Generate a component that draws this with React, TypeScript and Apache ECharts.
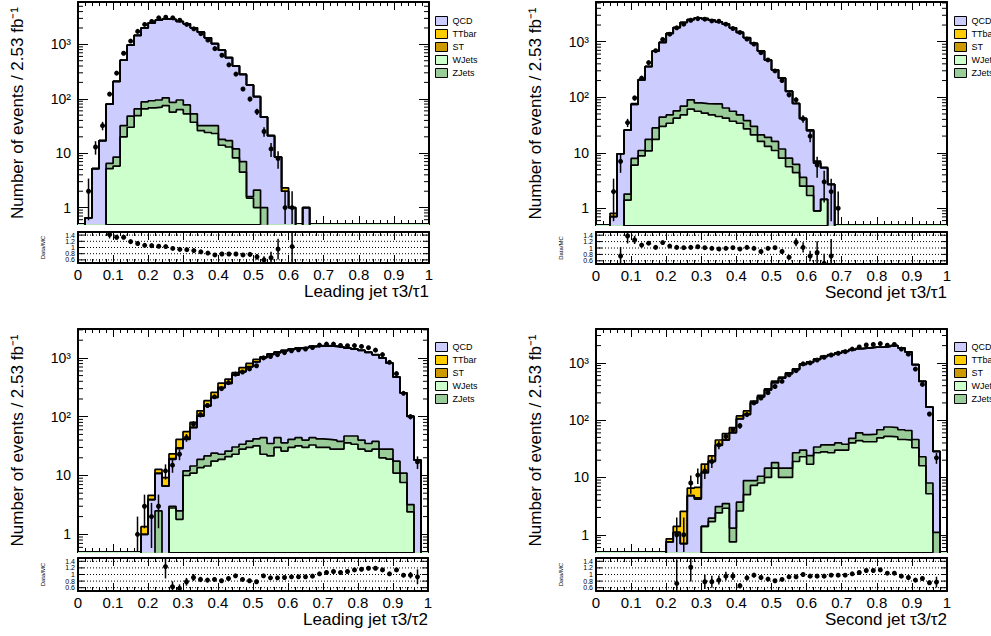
import React, { useEffect, useRef } from "react";
import * as echarts from "echarts";

const NBINS = 50;
const BIN_WIDTH = 0.02;
const binLow = Array.from({ length: NBINS }, (_, i) => Math.round(i * BIN_WIDTH * 100) / 100);

function bins(start: number, values: (number | null)[], fill: number | null = 0): (number | null)[] {
  const out: (number | null)[] = new Array(NBINS).fill(fill);
  values.forEach((v, i) => { out[start + i] = v; });
  return out;
}

const LEGEND_ORDER = ["QCD", "TTbar", "ST", "WJets", "ZJets"];
const COLORS: Record<string, string> = {
  QCD: "#ccccff",
  TTbar: "#ffcc00",
  ST: "#cc9900",
  WJets: "#ccffcc",
  ZJets: "#99cc99",
};
const Y_TITLE = "Number of events / 2.53 fb\u207B\u00B9";
const RATIO_LINES = [0.6, 0.8, 1.0, 1.2, 1.4];
const X_TICK_LABEL_STEP = 0.1;

// ---------- Leading jet tau3/tau1 ----------
const tlQCD = bins(1, [0.65, 5.2, 17, 73.5, 199.5, 478, 922, 1395, 1922, 2388, 2685, 2826, 2774, 2535, 2303, 1957, 1648, 1288, 998, 762, 554, 390, 273, 177, 107, 45, 21, 8.5, 2.0, 1.0, 0, 1.0]);
const tlTTbar = bins(6, [1, 2, 3, 3, 4, 4, 4, 4, 3, 3, 3, 2, 2, 1, 1, 1, 0.5, 0.5, 0.3, 0.2, 0.1, 0, 0, 0.3]);
const tlST = bins(7, [0.5, 1, 1, 1.5, 1.5, 1.5, 1.5, 1, 1, 1, 0.5, 0.5, 0.3]);
const tlWJets = bins(4, [5.2, 5.8, 20, 30, 49, 65, 68, 70, 75, 57, 63, 53, 37, 26, 24, 23, 14, 13, 8.2, 4.5, 1.5, 1.0]);
const tlZJets = bins(4, [1.3, 2.7, 12, 18, 16, 23, 24, 25, 29, 29, 32, 24, 16, 6, 8, 9, 4, 4, 3.8, 2.5, 0.1, 1.1, 1.0]);
const tlData = bins(1, [2, 13, 32, 122, 296, 686, 1150, 1730, 2320, 2630, 3070, 3150, 3070, 2780, 2320, 1930, 1570, 1200, 834, 630, 420, 284, 151, 99, 58, 25, 12, 8, 1, 1]);
const tlRatio = bins(4, [1.42, 1.33, 1.33, 1.19, 1.13, 1.07, 1.06, 1.04, 1.03, 0.97, 0.94, 0.93, 0.9, 0.86, 0.82, 0.76, 0.79, 0.79, 0.79, 0.76, 0.78, 0.7, 0.6, 0.67, 0.95, null, 1.03], null);

// ---------- Second jet tau3/tau1 ----------
const trQCD = bins(2, [0.71, 9.6, 23.8, 66.8, 195, 340, 653, 929, 1362, 1743, 2151, 2420, 2611, 2533, 2364, 2204, 2006, 1724, 1422, 1142, 903, 660, 451, 295, 209, 120, 71, 37.4, 22.5, 5.6, 3.95, 2.7]);
const trTTbar = bins(2, [0.1, 0, 0, 2, 1, 1, 2, 3, 3, 4, 4, 4, 4, 4, 3, 3, 3, 2, 2, 2, 1, 1, 1, 0.5, 0.5, 0.5, 0.3, 1, 1, 0.6]);
const trST = bins(6, [0.5, 0.5, 1, 1, 1, 1, 1, 1, 1, 1, 0.5, 0.5, 0.5, 0.3, 0.3]);
const trWJets = bins(4, [1.4, 6.0, 8.8, 10.8, 17.4, 30, 34, 42, 48, 61, 56, 52, 48, 45, 42, 37, 34, 27, 21, 16, 13, 11, 8, 5.6, 4.4, 2.5, 1.7, 0.9, 1.45]);
const trZJets = bins(4, [0.4, 1.9, 2.2, 6.6, 10.6, 14, 14, 15, 21, 29, 23, 25, 28, 31, 22, 19, 14, 11, 9, 5, 6, 5, 3.7, 2.4, 1.8, 1.1, 0.8]);
const trData = bins(2, [2, 7, 35, 97, 221, 421, 690, 1100, 1370, 1780, 2070, 2440, 2610, 2550, 2370, 2340, 2070, 1730, 1470, 1120, 908, 635, 470, 298, 200, 111, 90, 41, 20, 6, 3, 2, 1]);
const trRatio = bins(3, [0.75, 1.375, 1.25, 1.09, 1.15, 1.02, 1.17, 1.06, 1.02, 1.01, 1.02, 1.04, 1.01, 0.99, 0.97, 0.99, 1.01, 0.97, 1.02, 0.99, 0.89, 0.99, 1.01, 0.89, 0.71, 1.18, 1.02, 0.75, 0.86, 0.52, 0.75], null);

// ---------- Leading jet tau3/tau2 ----------
const blQCD = bins(9, [1.0, 3.9, 8.4, 6.6, 15.8, 26, 29, 50.5, 83, 130, 186, 286, 340, 478, 546, 666, 813, 966, 1105, 1186, 1284, 1354, 1411, 1455, 1516, 1558, 1559, 1525, 1487, 1418, 1363, 1300, 1205, 1094, 967, 789, 454, 242, 98, 18.3]);
const blTTbar = bins(9, [0.35, 0.7, 1.8, 2.6, 4.0, 11.5, 13.7, 13.8, 22, 33, 45, 57, 63, 48, 96, 96, 82, 30, 30, 30, 30, 25, 25, 25, 20, 20, 20, 15, 15, 15, 10, 10, 10, 8, 5, 5, 3, 2, 1]);
const blST = bins(13, [0.5, 1, 1, 1, 2, 3, 4, 5, 5, 4, 6, 6, 5, 3, 3, 3, 3]);
const blWJets = bins(13, [2.8, 1.8, 10, 11, 13.6, 14.5, 17.6, 18.8, 21, 23, 28, 30, 32, 23, 21.5, 30, 26, 30, 32, 30, 33, 30, 30, 28, 28, 36, 34, 28, 26, 28, 20, 19, 11, 7.6, 2.4]);
const blZJets = bins(11, [2.5, 0, 0.2, 0.7, 2, 3.5, 5.2, 7, 6.4, 4.2, 5, 7.5, 6, 8.5, 10, 21, 13.5, 14, 10, 11, 12, 10, 11, 12, 11, 12, 10, 11, 13, 12, 9, 10, 8, 9, 6.5, 3.4, 0.8]);
const blData = bins(8, [1, 3, 2, 3, 12, 15, 23, 44, 75, 108, 155, 218, 300, 380, 530, 575, 650, 735, 1000, 1055, 1135, 1230, 1320, 1375, 1415, 1500, 1650, 1715, 1720, 1630, 1615, 1620, 1565, 1490, 1355, 1140, 840, 540, 250, 100, 17]);
const blRatio = bins(12, [1.24, 0.63, 0.58, 0.78, 0.91, 0.85, 0.83, 0.85, 0.81, 0.88, 0.96, 0.85, 0.81, 0.78, 0.96, 0.9, 0.9, 0.91, 0.93, 0.93, 0.93, 0.95, 1.02, 1.06, 1.09, 1.06, 1.09, 1.14, 1.16, 1.19, 1.19, 1.14, 1.02, 1.14, 0.98, 0.98, 0.93], null);

// ---------- Second jet tau3/tau2 ----------
const brQCD = bins(10, [0.75, 1.1, 0.7, 4.8, 4.2, 10.6, 17, 33, 41.5, 58.7, 101, 116, 191, 243, 321, 432, 525, 633, 738, 910, 998, 1118, 1255, 1348, 1445, 1550, 1650, 1710, 1764, 1815, 1824, 1868, 1930, 1757, 1490, 887, 454, 161.5, 27.5]);
const brTTbar = bins(10, [0.1, 0.3, 1.86, 1.7, 2.3, 4.7, 4.4, 8, 12, 13, 12, 18, 14, 14, 15, 28, 20, 20, 20, 20, 18, 18, 18, 15, 15, 12, 12, 10, 10, 8, 8, 6, 6, 5, 4, 2, 1, 0.5]);
const brST = bins(14, [0.2, 0.4, 0.5, 1, 1, 1, 2, 2, 2, 3, 3, 3, 3, 3, 2, 2, 2, 2]);
const brWJets = bins(15, [1.4, 1.7, 2.4, 2.9, 0.75, 2.6, 5.0, 7.3, 8.0, 10, 14.5, 10, 10, 19, 23, 17, 27, 28, 27, 30, 30, 40, 44, 42, 42, 49, 52, 51, 46, 45, 33, 16, 5.2]);
const brZJets = bins(15, [0, 0.25, 0.7, 0.6, 0.55, 1.1, 3.8, 1.5, 2.5, 4.5, 3.7, 4.5, 4.5, 8, 7, 7, 7, 9, 10, 10, 8, 8, 16, 14, 15, 19, 24, 23, 22, 21, 13, 7, 2.8, 1.1]);
const brData = bins(11, [1, 1, 8, 11, 13, 19, 37, 52, 68, 80, 125, 200, 244, 302, 387, 476, 621, 730, 960, 1000, 1120, 1250, 1370, 1470, 1570, 1740, 1890, 2050, 2100, 2170, 2030, 2090, 1740, 1420, 780, 420, 128, 22]);
const brRatio = bins(11, [0.73, null, 1.22, null, 0.78, 0.78, 0.83, 0.95, 0.95, 0.66, 0.9, 0.98, 0.91, 0.86, 0.81, 0.85, 0.93, 0.93, 1.0, 0.95, 0.95, 0.95, 0.98, 0.98, 0.98, 1.02, 1.06, 1.12, 1.12, 1.14, 1.04, 1.04, 0.95, 0.91, 0.83, 0.88, 0.75, 0.77], null);

const PANELS = [
  {
    title: "Leading jet \u03C43/\u03C41", yMax: 6000,
    qcd: tlQCD, ttbar: tlTTbar, st: tlST, wjets: tlWJets, zjets: tlZJets, data: tlData, ratio: tlRatio,
    main: { left: 78, top: 2, width: 351, height: 222 },
    sub: { left: 78, top: 232, width: 351, height: 31 },
    legend: { left: 435, top: 16 },
  },
  {
    title: "Second jet \u03C43/\u03C41", yMax: 5200,
    qcd: trQCD, ttbar: trTTbar, st: trST, wjets: trWJets, zjets: trZJets, data: trData, ratio: trRatio,
    main: { left: 596, top: 2, width: 351, height: 223 },
    sub: { left: 596, top: 232, width: 351, height: 32 },
    legend: { left: 954, top: 16 },
  },
  {
    title: "Leading jet \u03C43/\u03C42", yMax: 3100,
    qcd: blQCD, ttbar: blTTbar, st: blST, wjets: blWJets, zjets: blZJets, data: blData, ratio: blRatio,
    main: { left: 78, top: 329, width: 350, height: 223 },
    sub: { left: 78, top: 558, width: 350, height: 33 },
    legend: { left: 435, top: 342 },
  },
  {
    title: "Second jet \u03C43/\u03C42", yMax: 3900,
    qcd: brQCD, ttbar: brTTbar, st: brST, wjets: brWJets, zjets: brZJets, data: brData, ratio: brRatio,
    main: { left: 596, top: 329, width: 351, height: 223 },
    sub: { left: 596, top: 558, width: 351, height: 33 },
    legend: { left: 954, top: 342 },
  },
];

const FONT = "'Liberation Sans', Arial, Helvetica, sans-serif";
const BLACK = "#000";
const frameLine = { show: true, onZero: false, lineStyle: { color: BLACK, width: 2 } };

function logLabel(v: number): string {
  const e = Math.log10(v);
  const r = Math.round(e);
  if (Math.abs(e - r) > 1e-6) return "";
  if (r === 0) return "1";
  if (r === 1) return "10";
  if (r === 2) return "10\u00B2";
  if (r === 3) return "10\u00B3";
  return "";
}

function ratioLabel(v: number): string {
  const r = Math.round(v * 10) / 10;
  if (!RATIO_LINES.some((x) => Math.abs(x - r) < 1e-6)) return "";
  return r === 1 ? "1" : r.toFixed(1);
}

function xAxisCfg(gridIndex: number, position: string, labels: boolean, name = "") {
  return {
    type: "value", gridIndex, position, min: 0, max: 1, interval: X_TICK_LABEL_STEP,
    axisLine: frameLine,
    axisTick: { show: true, inside: true, length: 8, lineStyle: { color: BLACK, width: 1 } },
    minorTick: { show: true, splitNumber: 5, length: 4, lineStyle: { color: BLACK, width: 1 } },
    axisLabel: { show: labels, fontSize: 15, color: BLACK, margin: 4, fontFamily: FONT, showMinLabel: true, showMaxLabel: true },
    splitLine: { show: false }, minorSplitLine: { show: false },
    name, nameLocation: "end", nameGap: 0,
    nameTextStyle: { fontSize: 17, color: BLACK, fontFamily: FONT, align: "right", verticalAlign: "top", padding: [20, 0, 0, 0] },
  };
}

function logAxisCfg(gridIndex: number, position: string, max: number, labels: boolean) {
  return {
    type: "log", logBase: 10, gridIndex, position, min: 0.5, max,
    axisLine: frameLine,
    axisTick: { show: true, inside: true, length: 10, lineStyle: { color: BLACK, width: 1 } },
    axisLabel: { show: labels, fontSize: 14, color: BLACK, margin: 7, fontFamily: FONT, formatter: logLabel },
    splitLine: { show: false },
    name: labels ? Y_TITLE : "", nameLocation: "middle", nameGap: 52, nameRotate: 90,
    nameTextStyle: { fontSize: 17, color: BLACK, fontFamily: FONT },
  };
}

function ratioAxisCfg(gridIndex: number, position: string, labels: boolean) {
  return {
    type: "value", gridIndex, position, min: 0.5, max: 1.5, interval: 0.1,
    axisLine: frameLine,
    axisTick: { show: false },
    axisLabel: { show: labels, fontSize: 7, color: BLACK, margin: 3, fontFamily: FONT, formatter: ratioLabel, showMinLabel: false, showMaxLabel: false },
    splitLine: { show: false },
    name: labels ? "Data/MC" : "", nameLocation: "middle", nameGap: 32, nameRotate: 90,
    nameTextStyle: { fontSize: 6, color: BLACK, fontFamily: FONT },
  };
}

function errorBarRender(params: any, api: any) {
  const x = api.value(0), y = api.value(1), lo = api.value(2), hi = api.value(3);
  const c = api.coord([x, y]);
  const cl = api.coord([x, lo]);
  const ch = api.coord([x, hi]);
  return {
    type: "group",
    children: [
      { type: "line", shape: { x1: c[0], y1: cl[1], x2: c[0], y2: ch[1] }, style: { stroke: BLACK, lineWidth: 1.5 } },
      { type: "circle", shape: { cx: c[0], cy: c[1], r: 2.5 }, style: { fill: BLACK } },
    ],
  };
}

function makeLogTicks(yMin: number, yMax: number) {
  return (params: any, api: any) => {
    const children: any[] = [];
    for (let k = -1; k <= 4; k++) {
      for (let m = 2; m <= 9; m++) {
        const v = m * Math.pow(10, k);
        if (v <= yMin || v >= yMax) continue;
        const pl = api.coord([0, v]);
        const pr = api.coord([1, v]);
        children.push({ type: "line", shape: { x1: pl[0], y1: pl[1], x2: pl[0] + 5, y2: pl[1] }, style: { stroke: BLACK, lineWidth: 1 } });
        children.push({ type: "line", shape: { x1: pr[0], y1: pr[1], x2: pr[0] - 5, y2: pr[1] }, style: { stroke: BLACK, lineWidth: 1 } });
      }
    }
    return { type: "group", children };
  };
}

function ratioGridRender(params: any, api: any) {
  const children: any[] = [];
  RATIO_LINES.forEach((v) => {
    const pl = api.coord([0, v]);
    const pr = api.coord([1, v]);
    children.push({ type: "line", shape: { x1: pl[0], y1: pl[1], x2: pr[0], y2: pr[1] }, style: { stroke: BLACK, lineWidth: 1, lineDash: [1, 2] } });
    children.push({ type: "line", shape: { x1: pl[0], y1: pl[1], x2: pl[0] + 6, y2: pl[1] }, style: { stroke: BLACK, lineWidth: 1 } });
    children.push({ type: "line", shape: { x1: pr[0], y1: pr[1], x2: pr[0] - 6, y2: pr[1] }, style: { stroke: BLACK, lineWidth: 1 } });
  });
  return { type: "group", children };
}

function buildOption() {
  const grids: any[] = [];
  const xAxes: any[] = [];
  const yAxes: any[] = [];
  const series: any[] = [];
  const legends: any[] = [];

  PANELS.forEach((p) => {
    const gMain = grids.length;
    grids.push({ ...p.main, containLabel: false, outerBoundsMode: "none" });
    const gSub = grids.length;
    grids.push({ ...p.sub, containLabel: false, outerBoundsMode: "none" });

    const xm = xAxes.length;
    xAxes.push(xAxisCfg(gMain, "bottom", false));
    xAxes.push(xAxisCfg(gMain, "top", false));
    const xs = xAxes.length;
    xAxes.push(xAxisCfg(gSub, "bottom", true, p.title));
    xAxes.push(xAxisCfg(gSub, "top", false));

    const ym = yAxes.length;
    yAxes.push(logAxisCfg(gMain, "left", p.yMax, true));
    yAxes.push(logAxisCfg(gMain, "right", p.yMax, false));
    const ys = yAxes.length;
    yAxes.push(ratioAxisCfg(gSub, "left", true));
    yAxes.push(ratioAxisCfg(gSub, "right", false));

    // cumulative stack: WJets, ZJets, QCD, ST, TTbar (bottom to top)
    const val = (a: (number | null)[], i: number) => (a[i] ?? 0) as number;
    const cW = binLow.map((_, i) => val(p.wjets, i));
    const cZ = cW.map((v, i) => v + val(p.zjets, i));
    const cQ = cZ.map((v, i) => v + val(p.qcd, i));
    const cS = cQ.map((v, i) => v + val(p.st, i));
    const cT = cS.map((v, i) => v + val(p.ttbar, i));
    const layers: [string, number[]][] = [["TTbar", cT], ["ST", cS], ["QCD", cQ], ["ZJets", cZ], ["WJets", cW]];
    const floor = (v: number) => (v > 0 ? v : 1e-3);
    layers.forEach(([name, vals]) => {
      const pts = vals.map((v, i) => [binLow[i], floor(v)]);
      pts.push([1, floor(vals[NBINS - 1])]);
      series.push({
        type: "line", name, xAxisIndex: xm, yAxisIndex: ym, step: "end", symbol: "none", showSymbol: false,
        silent: true, clip: true, data: pts, z: 2,
        lineStyle: { color: BLACK, width: 1.7 },
        itemStyle: { color: COLORS[name] },
        areaStyle: { color: COLORS[name], opacity: 1, origin: "start" },
      });
    });

    series.push({
      type: "custom", xAxisIndex: xm, yAxisIndex: ym, clip: true, silent: true, z: 4,
      data: [[0.5, 1]], renderItem: makeLogTicks(0.5, p.yMax),
    });

    const dataPts = (p.data as number[])
      .map((n, i) => (n > 0 ? [binLow[i] + BIN_WIDTH / 2, n, Math.max(n - Math.sqrt(n), 1e-3), n + Math.sqrt(n)] : null))
      .filter((d) => d !== null);
    series.push({
      type: "custom", name: "Data", xAxisIndex: xm, yAxisIndex: ym, clip: true, silent: true, z: 5,
      data: dataPts, renderItem: errorBarRender,
    });

    series.push({
      type: "custom", xAxisIndex: xs, yAxisIndex: ys, clip: true, silent: true, z: 3,
      data: [[0.5, 1]], renderItem: ratioGridRender,
    });

    const ratioPts = (p.ratio as (number | null)[])
      .map((r, i) => {
        const n = val(p.data, i);
        if (r === null || n <= 0) return null;
        const e = r / Math.sqrt(n);
        return [binLow[i] + BIN_WIDTH / 2, r, r - e, r + e];
      })
      .filter((d) => d !== null);
    series.push({
      type: "custom", name: "Ratio", xAxisIndex: xs, yAxisIndex: ys, clip: true, silent: true, z: 5,
      data: ratioPts, renderItem: errorBarRender,
    });

    legends.push({
      left: p.legend.left, top: p.legend.top, orient: "vertical", icon: "rect",
      itemWidth: 12, itemHeight: 9, itemGap: 3, padding: 0, selectedMode: false,
      textStyle: { fontSize: 9, color: BLACK, fontFamily: FONT, lineHeight: 9 },
      data: LEGEND_ORDER.map((n) => ({ name: n, itemStyle: { color: COLORS[n], borderColor: BLACK, borderWidth: 1 } })),
    });
  });

  return {
    animation: false,
    backgroundColor: "#fff",
    textStyle: { fontFamily: FONT },
    grid: grids,
    xAxis: xAxes,
    yAxis: yAxes,
    legend: legends,
    series,
  };
}

export default function App() {
  const ref = useRef<HTMLDivElement>(null);
  useEffect(() => {
    if (!ref.current) return;
    const chart = echarts.init(ref.current, null, { renderer: "svg" });
    chart.setOption(buildOption() as any);
    return () => chart.dispose();
  }, []);
  return <div ref={ref} style={{ position: "absolute", left: 0, top: 0, width: 991, height: 636 }} />;
}
